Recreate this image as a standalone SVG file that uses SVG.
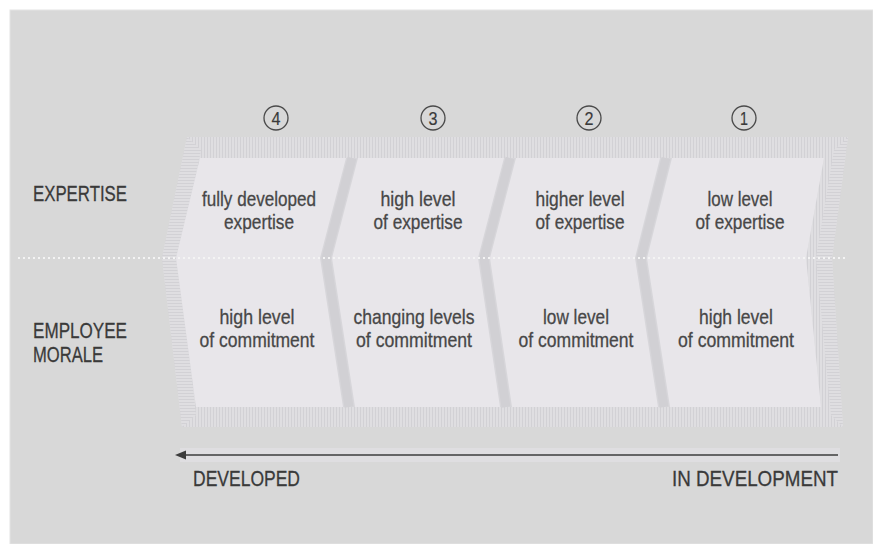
<svg xmlns="http://www.w3.org/2000/svg" width="873" height="544" viewBox="0 0 873 544">
  <style>
    .lbl { font-family: "Liberation Sans", Arial, sans-serif; fill: #3a3a3a; stroke: #3a3a3a; stroke-width: 0.3; }
    .row { font-size: 22px; }
    .cell { font-size: 21px; fill: #474747; stroke: #474747; text-anchor: middle; }
    .num { font-size: 19px; text-anchor: middle; stroke-width: 0.2; }
    .ring { fill: none; stroke: #4a4a4a; stroke-width: 1.3; }
    .panel { fill: #e8e6ea; }
    .sep { fill: none; stroke: #d1d0d4; stroke-width: 9; stroke-linejoin: round; }
    .axis { font-size: 22px; }
  </style>
  <defs>
    <pattern id="hatchV" width="3" height="10" patternUnits="userSpaceOnUse">
      <rect width="3" height="10" fill="#dfdee1"/>
      <rect width="1" height="10" fill="#d2d1d5"/>
    </pattern>
    <pattern id="hatchH" width="10" height="3" patternUnits="userSpaceOnUse">
      <rect width="10" height="3" fill="#dfdee1"/>
      <rect width="10" height="1" fill="#d2d1d5"/>
    </pattern>
  </defs>

  <rect width="873" height="544" fill="#ffffff"/>
  <rect x="10" y="10" width="863" height="534" fill="#d8d8d8" stroke="#e4e4e4" stroke-width="1"/>

  <!-- outer band -->
  <g id="band">
    <polygon points="187,137 848,137 832,258 843,427 182,427 162,258" fill="url(#hatchV)"/>
    <polygon points="187,137 201,150 179,258 196,415 182,427 162,258" fill="url(#hatchH)"/>
    <polygon points="848,137 834,150 816,258 831,415 843,427 832,258" fill="url(#hatchH)"/>
    <polygon points="200,158 824,158 806,258 821,407 196,407 176,258" fill="#d7d6da"/>
  </g>

  <!-- separators between panels -->
  <g id="connectors">
    <polyline class="sep" points="352,158 326,258 349,407"/>
    <polyline class="sep" points="510,158 484,258 506,407"/>
    <polyline class="sep" points="666,158 641,258 664,407"/>
  </g>

  <g id="stage4">
    <polygon class="panel" points="200,158 346,158 320,258 343,407 196,407 176,258"/>
    <circle class="ring" cx="276" cy="118" r="12"/>
    <text class="lbl num" x="276" y="125" textLength="9" lengthAdjust="spacingAndGlyphs">4</text>
    <text class="lbl cell" x="259" y="206" textLength="114" lengthAdjust="spacingAndGlyphs">fully developed</text>
    <text class="lbl cell" x="259" y="229" textLength="70" lengthAdjust="spacingAndGlyphs">expertise</text>
    <text class="lbl cell" x="257" y="324" textLength="75" lengthAdjust="spacingAndGlyphs">high level</text>
    <text class="lbl cell" x="257" y="347" textLength="115" lengthAdjust="spacingAndGlyphs">of commitment</text>
  </g>

  <g id="stage3">
    <polygon class="panel" points="358,158 504,158 478,258 500,407 355,407 332,258"/>
    <circle class="ring" cx="433" cy="118" r="12"/>
    <text class="lbl num" x="433" y="125" textLength="9" lengthAdjust="spacingAndGlyphs">3</text>
    <text class="lbl cell" x="418" y="206" textLength="75" lengthAdjust="spacingAndGlyphs">high level</text>
    <text class="lbl cell" x="418" y="229" textLength="89" lengthAdjust="spacingAndGlyphs">of expertise</text>
    <text class="lbl cell" x="414" y="324" textLength="121" lengthAdjust="spacingAndGlyphs">changing levels</text>
    <text class="lbl cell" x="414" y="347" textLength="116" lengthAdjust="spacingAndGlyphs">of commitment</text>
  </g>

  <g id="stage2">
    <polygon class="panel" points="516,158 660,158 635,258 658,407 512,407 490,258"/>
    <circle class="ring" cx="589" cy="118" r="12"/>
    <text class="lbl num" x="589" y="125" textLength="9" lengthAdjust="spacingAndGlyphs">2</text>
    <text class="lbl cell" x="580" y="206" textLength="89" lengthAdjust="spacingAndGlyphs">higher level</text>
    <text class="lbl cell" x="580" y="229" textLength="89" lengthAdjust="spacingAndGlyphs">of expertise</text>
    <text class="lbl cell" x="576" y="324" textLength="66" lengthAdjust="spacingAndGlyphs">low level</text>
    <text class="lbl cell" x="576" y="347" textLength="115" lengthAdjust="spacingAndGlyphs">of commitment</text>
  </g>

  <g id="stage1">
    <polygon class="panel" points="672,158 824,158 806,258 821,407 670,407 647,258"/>
    <circle class="ring" cx="744" cy="118" r="12"/>
    <text class="lbl num" x="744" y="125" textLength="8" lengthAdjust="spacingAndGlyphs">1</text>
    <text class="lbl cell" x="740" y="206" textLength="65" lengthAdjust="spacingAndGlyphs">low level</text>
    <text class="lbl cell" x="740" y="229" textLength="89" lengthAdjust="spacingAndGlyphs">of expertise</text>
    <text class="lbl cell" x="736" y="324" textLength="74" lengthAdjust="spacingAndGlyphs">high level</text>
    <text class="lbl cell" x="736" y="347" textLength="116" lengthAdjust="spacingAndGlyphs">of commitment</text>
  </g>

  <!-- dotted divider -->
  <line x1="18" y1="258" x2="848" y2="258" stroke="#f4f4f4" stroke-width="2" stroke-dasharray="2 3"/>

  <g id="rows">
    <text class="lbl row" x="33" y="201" textLength="94" lengthAdjust="spacingAndGlyphs">EXPERTISE</text>
    <text class="lbl row" x="33" y="338" textLength="94" lengthAdjust="spacingAndGlyphs">EMPLOYEE</text>
    <text class="lbl row" x="33" y="362" textLength="70" lengthAdjust="spacingAndGlyphs">MORALE</text>
  </g>

  <g id="axis">
    <rect x="180" y="448" width="660" height="14" fill="#dfdee1"/>
    <line x1="184" y1="455" x2="838" y2="455" stroke="#3c3c3c" stroke-width="1.6"/>
    <polygon points="175,455 186,450.5 186,459.5" fill="#3c3c3c"/>
    <text class="lbl axis" x="193" y="486" textLength="107" lengthAdjust="spacingAndGlyphs">DEVELOPED</text>
    <text class="lbl axis" x="838" y="486" text-anchor="end" textLength="166" lengthAdjust="spacingAndGlyphs">IN DEVELOPMENT</text>
  </g>
</svg>
